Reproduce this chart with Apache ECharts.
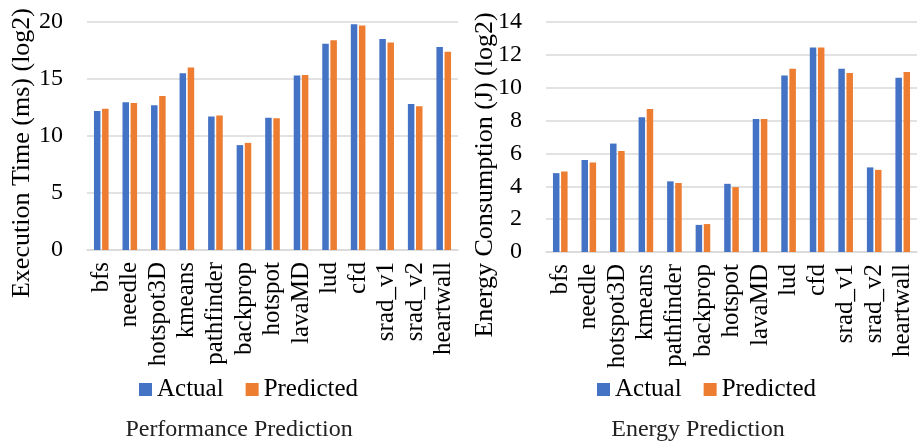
<!DOCTYPE html>
<html>
<head>
<meta charset="utf-8">
<script src="https://cdn.jsdelivr.net/npm/echarts@6/dist/echarts.min.js"></script>
<style>
  html, body { margin: 0; padding: 0; background: #fff; }
  #chart { width: 922px; height: 442px; }
</style>
</head>
<body>
<div id="chart"></div>
<script>
// Rodinia benchmarks: execution time and energy, actual vs. predicted (log2 scale)
const categories = ['bfs', 'needle', 'hotspot3D', 'kmeans', 'pathfinder', 'backprop', 'hotspot',
  'lavaMD', 'lud', 'cfd', 'srad_v1', 'srad_v2', 'heartwall'];

const timeActual    = [12.2, 12.95, 12.7, 15.5, 11.7, 9.2, 11.6, 15.3, 18.1, 19.8, 18.5, 12.8, 17.8];
const timePredicted = [12.4, 12.9, 13.5, 16.0, 11.8, 9.4, 11.55, 15.35, 18.4, 19.7, 18.2, 12.6, 17.4];

const energyActual    = [4.8, 5.6, 6.6, 8.2, 4.3, 1.65, 4.15, 8.1, 10.75, 12.45, 11.15, 5.15, 10.6];
const energyPredicted = [4.9, 5.45, 6.15, 8.7, 4.2, 1.7, 3.95, 8.1, 11.15, 12.45, 10.9, 5.0, 10.95];

const timeTicks = { min: 0, max: 20, interval: 5 };
const energyTicks = { min: 0, max: 14, interval: 2 };

const FONT = '"Liberation Serif", "Times New Roman", serif';
const BLUE = '#4472C4';
const ORANGE = '#ED7D31';
const GRID_GRAY = '#d9d9d9';

const chart = echarts.init(document.getElementById('chart'), null, { renderer: 'canvas' });

function xAxisFor(gridIndex) {
  return {
    type: 'category',
    gridIndex: gridIndex,
    data: categories,
    axisLine: { show: true, lineStyle: { color: GRID_GRAY, width: 1.5 } },
    axisTick: { show: false },
    axisLabel: { rotate: 90, margin: 12, color: '#000', fontFamily: FONT, fontSize: 25, interval: 0 }
  };
}

function yAxisFor(gridIndex, ticks) {
  return {
    type: 'value',
    gridIndex: gridIndex,
    min: ticks.min,
    max: ticks.max,
    interval: ticks.interval,
    axisLine: { show: false },
    axisTick: { show: false },
    splitLine: { lineStyle: { color: GRID_GRAY, width: 1.5 } },
    axisLabel: { margin: 24, color: '#000', fontFamily: FONT, fontSize: 24 }
  };
}

function barSeries(name, data, color, idx) {
  return {
    name: name,
    type: 'bar',
    xAxisIndex: idx,
    yAxisIndex: idx,
    data: data,
    barWidth: 6.5,
    barGap: '25%',
    itemStyle: { color: color },
    emphasis: { disabled: true }
  };
}

function legendAt(left) {
  return {
    left: left,
    top: 372,
    icon: 'rect',
    itemWidth: 13,
    itemHeight: 13,
    itemGap: 22,
    data: ['Actual', 'Predicted'],
    textStyle: { color: '#000', fontFamily: FONT, fontSize: 25 }
  };
}

const option = {
  backgroundColor: '#fff',
  animation: false,
  title: [
    { text: 'Performance Prediction', left: 234, top: 413, textAlign: 'center',
      textStyle: { color: '#222', fontFamily: FONT, fontSize: 24, fontWeight: 'normal' } },
    { text: 'Energy Prediction', left: 693, top: 413, textAlign: 'center',
      textStyle: { color: '#222', fontFamily: FONT, fontSize: 24, fontWeight: 'normal' } }
  ],
  legend: [legendAt(134), legendAt(592)],
  grid: [
    { left: 87, top: 22, width: 371, height: 228 },
    { left: 546, top: 22, width: 371, height: 230 }
  ],
  xAxis: [xAxisFor(0), xAxisFor(1)],
  yAxis: [yAxisFor(0, timeTicks), yAxisFor(1, energyTicks)],
  graphic: [
    { type: 'text', x: 22, y: 153, rotation: Math.PI / 2,
      style: { text: 'Execution Time (ms) (log2)', fill: '#000', font: '26px ' + FONT,
               textAlign: 'center', textVerticalAlign: 'middle' } },
    { type: 'text', x: 485, y: 175, rotation: Math.PI / 2,
      style: { text: 'Energy Consumption (J) (log2)', fill: '#000', font: '26px ' + FONT,
               textAlign: 'center', textVerticalAlign: 'middle' } }
  ],
  series: [
    barSeries('Actual', timeActual, BLUE, 0),
    barSeries('Predicted', timePredicted, ORANGE, 0),
    barSeries('Actual', energyActual, BLUE, 1),
    barSeries('Predicted', energyPredicted, ORANGE, 1)
  ]
};

chart.setOption(option);
</script>
</body>
</html>
